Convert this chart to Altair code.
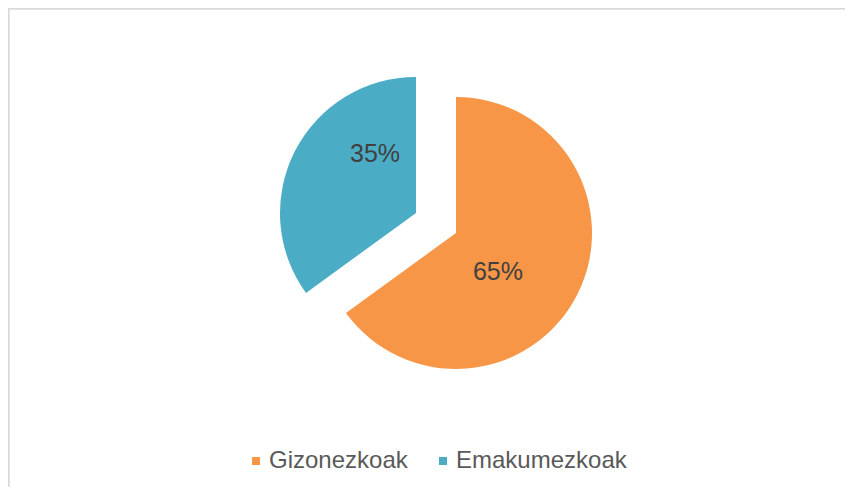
import altair as alt
import pandas as pd

categories = ["Gizonezkoak", "Emakumezkoak"]
values = [65, 35]
labels = ["65%", "35%"]
order = [0, 1]
colors = ["#F79646", "#4BACC6"]

df = pd.DataFrame({"cat": categories, "value": values, "label": labels, "idx": order})

W, H = 837, 479
CX, CY = 448, 225
R = 136
FONT = "Liberation Sans"

color_scale = alt.Scale(domain=categories, range=colors)

base = alt.Chart(df)

def arc_layer(cat, x, y, legend):
    return base.mark_arc(radius=R, stroke=None).encode(
        theta=alt.Theta("value:Q", stack=True),
        order=alt.Order("idx:Q"),
        color=alt.Color("cat:N", scale=color_scale, sort=categories, legend=legend),
        opacity=alt.condition(alt.datum.cat == cat, alt.value(1), alt.value(0)),
        x=alt.value(x),
        y=alt.value(y),
    )

def text_layer(cat, x, y, dx, dy):
    return base.mark_text(radius=60, fontSize=25, font=FONT, color="#404040",
                          align="center", baseline="middle", dx=dx, dy=dy).encode(
        theta=alt.Theta("value:Q", stack=True),
        order=alt.Order("idx:Q"),
        text="label:N",
        opacity=alt.condition(alt.datum.cat == cat, alt.value(1), alt.value(0)),
        x=alt.value(x),
        y=alt.value(y),
    )

legend = alt.Legend(
    title=None, orient="none", direction="horizontal",
    legendX=236, legendY=441, padding=0,
    symbolType="square", symbolSize=64, symbolStrokeWidth=0,
    labelFontSize=24, labelFont=FONT, labelColor="#595959", labelLimit=400,
    labelOffset=1, columnPadding=23,
)

orange = arc_layer("Gizonezkoak", CX, CY, legend)
blue = arc_layer("Emakumezkoak", CX - 40, CY - 20, legend)
t1 = text_layer("Gizonezkoak", CX, CY, -11.5, 12)
t2 = text_layer("Emakumezkoak", CX - 40, CY - 20, 12.5, -32)

border_left = alt.Chart(df).mark_rule(color="#d9d9d9", strokeWidth=2).encode(
    x=alt.value(0.5), y=alt.value(0), y2=alt.value(H))
border_top = alt.Chart(df).mark_rule(color="#d9d9d9", strokeWidth=2).encode(
    y=alt.value(0.5), x=alt.value(0), x2=alt.value(W))

chart = alt.layer(border_left, border_top, orange, blue, t1, t2).properties(
    width=W, height=H, autosize=alt.AutoSizeParams(type="none"), padding=0,
).configure_view(stroke=None)

chart.save("out.html", embed_options={"renderer": "svg", "actions": False})
